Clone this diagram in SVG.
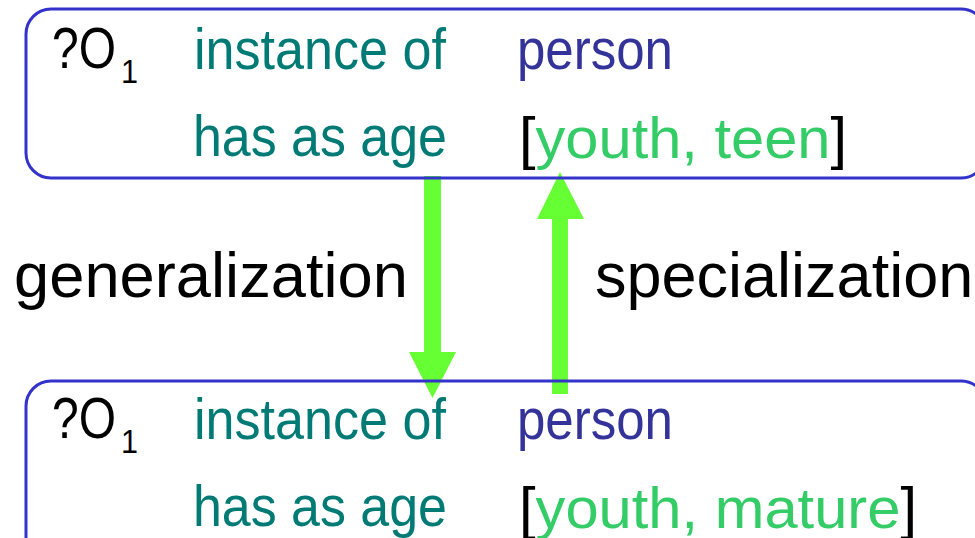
<svg xmlns="http://www.w3.org/2000/svg" width="975" height="538" viewBox="0 0 975 538">
  <defs>
    <style>
      .box { fill: none; stroke: #3333CC; stroke-width: 3; }
      .arrow { fill: #66FF33; stroke: none; }
      .var { font-family: "Liberation Sans", Arial, sans-serif; font-size: 57px; fill: #000; }
      .sub { font-family: "Liberation Sans", Arial, sans-serif; font-size: 33px; fill: #000; }
      .rel { font-family: "Liberation Sans", Arial, sans-serif; font-size: 58px; fill: #007A74; }
      .cls { font-family: "Liberation Sans", Arial, sans-serif; font-size: 58px; fill: #333399; }
      .rng { font-family: "Liberation Sans", Arial, sans-serif; font-size: 58px; fill: #000; }
      .val { fill: #33CC66; }
      .lbl { font-family: "Liberation Sans", Arial, sans-serif; font-size: 63px; fill: #000; }
    </style>
  </defs>

  <!-- transformation arrows between the two patterns -->
  <g id="connectors">
    <path class="arrow" d="M424,176 H441 V352 H456 L432.5,398 L409,352 H424 Z"/>
    <path class="arrow" d="M552,394 H568 V219 H584 L560,172 L537,219 H552 Z"/>
  </g>

  <!-- general pattern -->
  <g id="pattern-top">
    <rect class="box" x="26" y="9" width="960" height="169" rx="25" ry="25"/>
    <text class="var" x="52" y="68" textLength="64" lengthAdjust="spacingAndGlyphs">?O</text>
    <text class="sub" x="121" y="83" textLength="17" lengthAdjust="spacingAndGlyphs">1</text>
    <text class="rel" x="194" y="69" textLength="252" lengthAdjust="spacingAndGlyphs">instance of</text>
    <text class="cls" x="517" y="69" textLength="156" lengthAdjust="spacingAndGlyphs">person</text>
    <text class="rel" x="193" y="156" textLength="254" lengthAdjust="spacingAndGlyphs">has as age</text>
    <text class="rng" x="519" y="158" textLength="328" lengthAdjust="spacingAndGlyphs">[<tspan class="val">youth, teen</tspan>]</text>
  </g>

  <!-- side labels -->
  <g id="label-generalization">
    <text class="lbl" x="14" y="297" textLength="394" lengthAdjust="spacingAndGlyphs">generalization</text>
  </g>
  <g id="label-specialization">
    <text class="lbl" x="595" y="297">specialization</text>
  </g>

  <!-- specific pattern -->
  <g id="pattern-bottom">
    <rect class="box" x="26" y="381" width="960" height="200" rx="25" ry="25"/>
    <text class="var" x="52" y="438" textLength="64" lengthAdjust="spacingAndGlyphs">?O</text>
    <text class="sub" x="121" y="453" textLength="17" lengthAdjust="spacingAndGlyphs">1</text>
    <text class="rel" x="194" y="439" textLength="252" lengthAdjust="spacingAndGlyphs">instance of</text>
    <text class="cls" x="517" y="439" textLength="156" lengthAdjust="spacingAndGlyphs">person</text>
    <text class="rel" x="193" y="526" textLength="254" lengthAdjust="spacingAndGlyphs">has as age</text>
    <text class="rng" x="519" y="528" textLength="398" lengthAdjust="spacingAndGlyphs">[<tspan class="val">youth, mature</tspan>]</text>
  </g>
</svg>
